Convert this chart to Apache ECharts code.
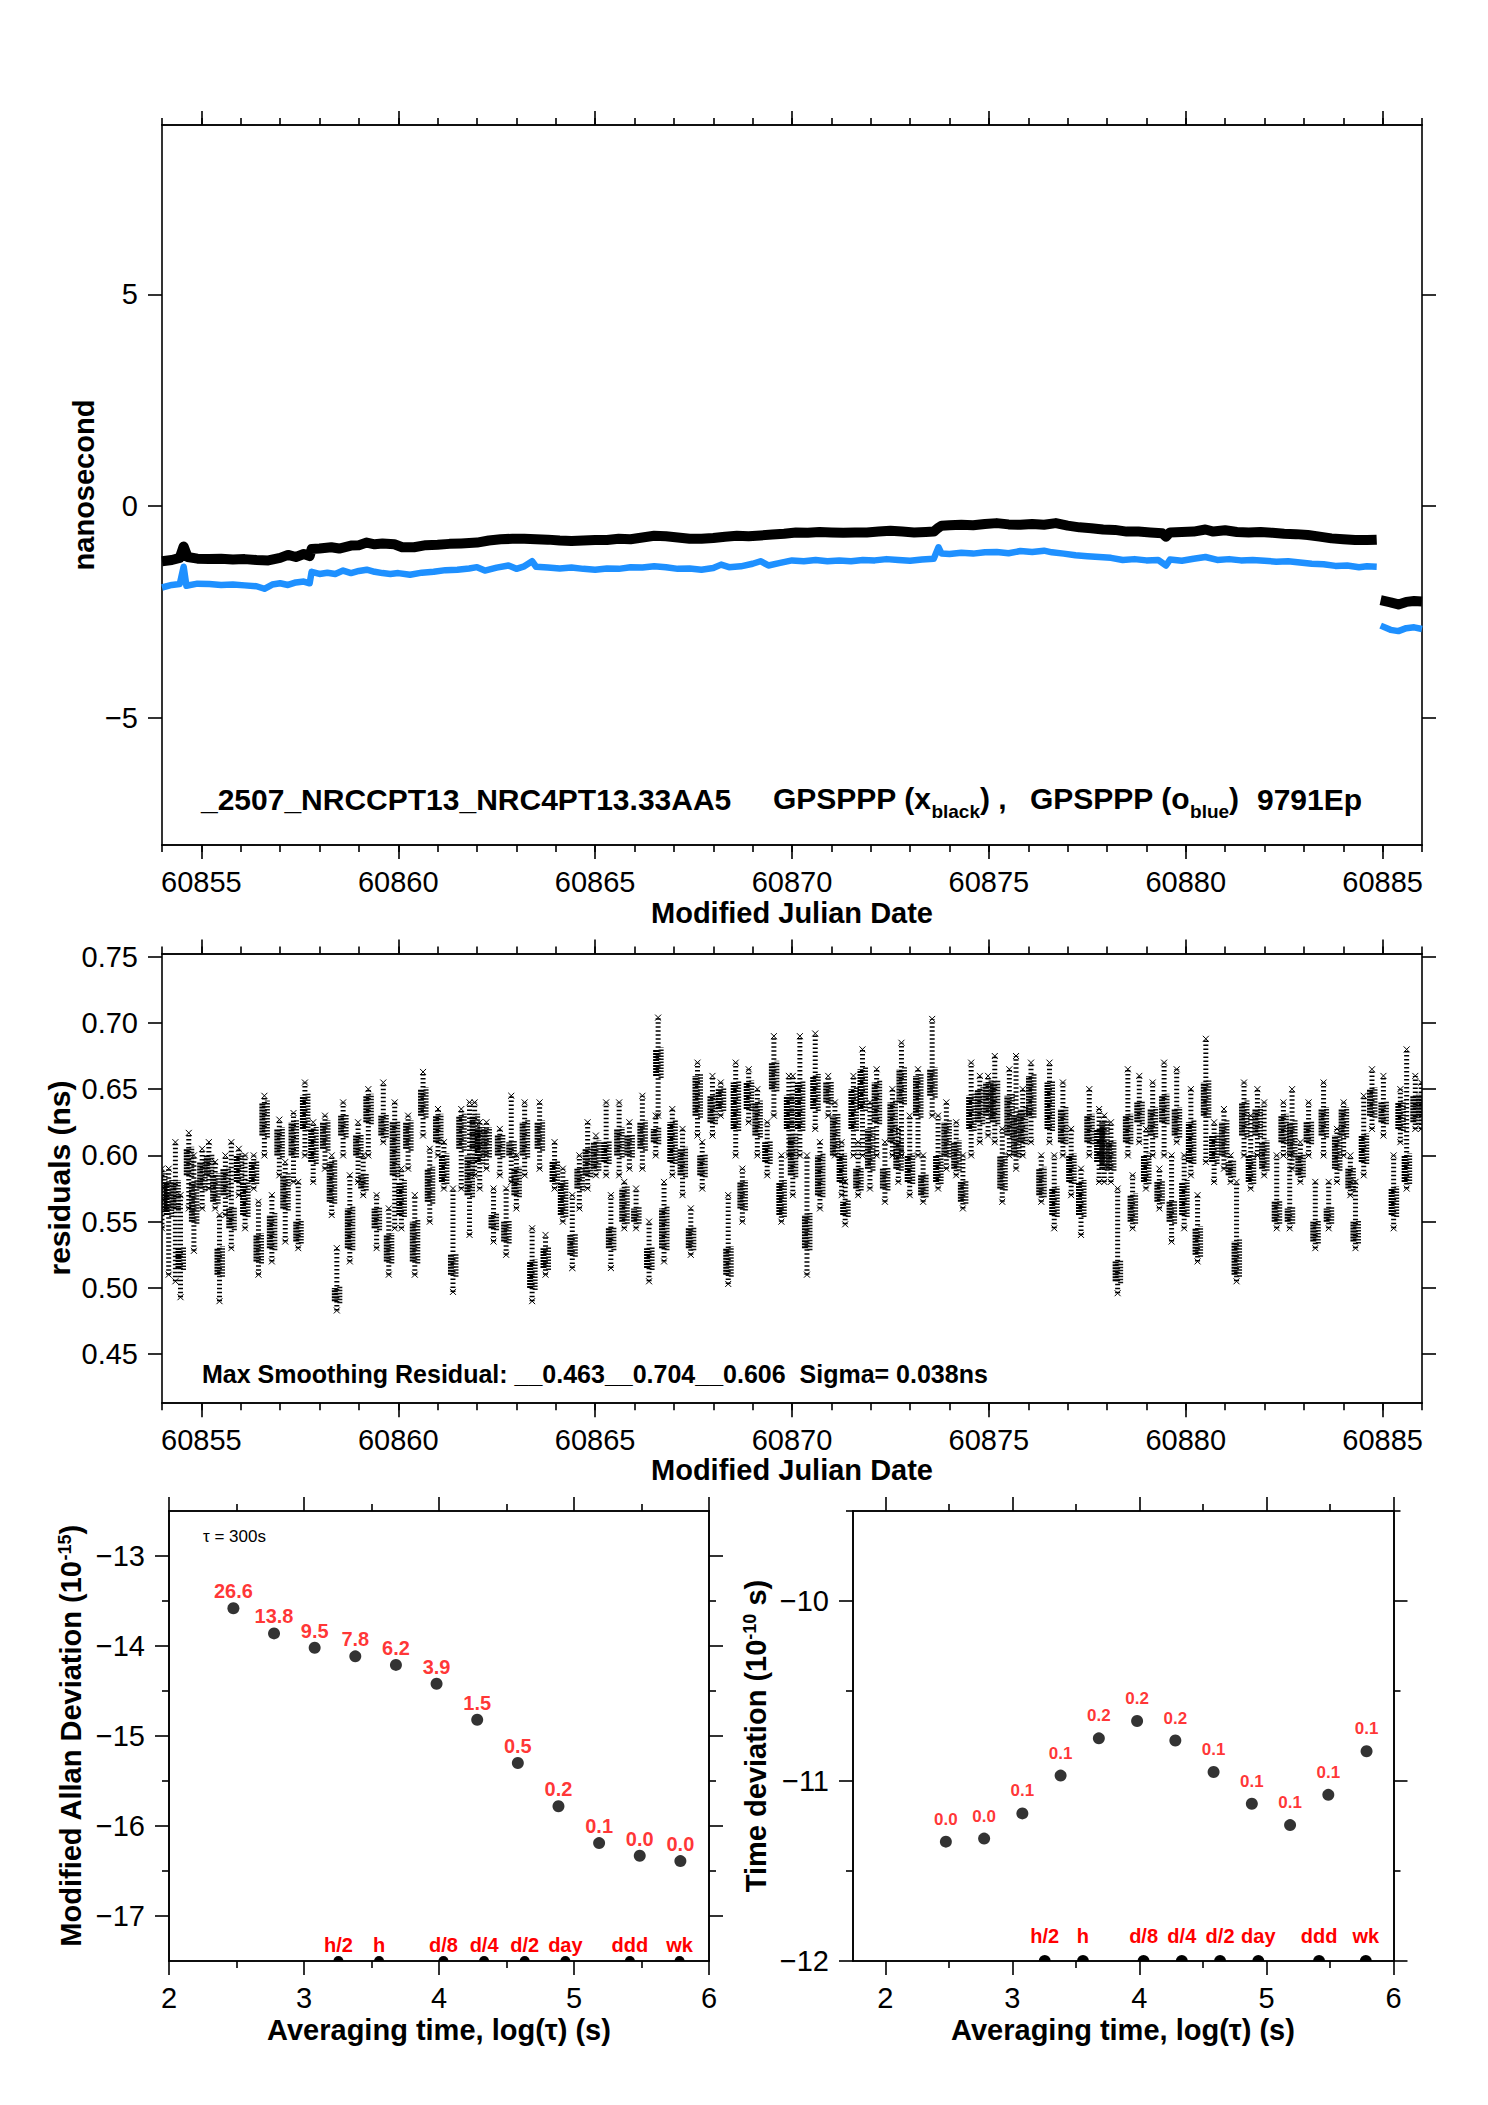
<!DOCTYPE html>
<html><head><meta charset="utf-8">
<script src="https://cdn.jsdelivr.net/npm/echarts@6/dist/echarts.min.js"></script>
<style>html,body{margin:0;padding:0;background:#fff}#c{width:1488px;height:2105px}</style>
</head><body><div id="c"></div>
<script>
// ---------- DATA ----------
const mjdMajor = [60855, 60860, 60865, 60870, 60875, 60880, 60885];
const mjdMinor = [60854,60855,60856,60857,60858,60859,60860,60861,60862,60863,60864,60865,60866,60867,60868,60869,60870,60871,60872,60873,60874,60875,60876,60877,60878,60879,60880,60881,60882,60883,60884,60885,60886];
const nsTicks = [-5, 0, 5];
const residTicks = [0.45, 0.50, 0.55, 0.60, 0.65, 0.70, 0.75];
const logTicks = [2, 3, 4, 5, 6];
const logMinor = [2.5, 3.5, 4.5, 5.5];
const madevTicks = [-17, -16, -15, -14, -13];
const madevMinor = [-16.5, -15.5, -14.5, -13.5];
const tdevTicks = [-12, -11, -10];
const tdevMinor = [-11.5, -10.5, -9.5];

// GPSPPP (black) time offsets, ns
const blackPts = [
[60854.00,-1.30],[60854.25,-1.27],[60854.45,-1.22],[60854.55,-0.95],[60854.65,-1.20],[60854.90,-1.24],
[60855.20,-1.25],[60855.50,-1.24],[60855.80,-1.26],[60856.10,-1.25],[60856.40,-1.27],[60856.70,-1.28],
[60857.00,-1.22],[60857.20,-1.15],[60857.40,-1.20],[60857.60,-1.13],[60857.75,-1.18],[60857.80,-1.01],
[60858.00,-1.00],[60858.30,-0.97],[60858.50,-1.00],[60858.80,-0.93],[60859.00,-0.92],[60859.20,-0.86],
[60859.40,-0.90],[60859.60,-0.88],[60859.90,-0.90],[60860.10,-0.97],[60860.40,-0.97],[60860.70,-0.92],
[60861.00,-0.91],[60861.30,-0.89],[60861.60,-0.88],[60862.00,-0.86],[60862.30,-0.81],[60862.60,-0.78],
[60862.90,-0.77],[60863.20,-0.77],[60863.50,-0.78],[60863.80,-0.79],[60864.10,-0.81],[60864.40,-0.82],
[60864.70,-0.81],[60865.00,-0.80],[60865.30,-0.80],[60865.60,-0.77],[60865.90,-0.78],[60866.20,-0.74],
[60866.50,-0.70],[60866.80,-0.71],[60867.10,-0.74],[60867.40,-0.77],[60867.70,-0.77],[60868.00,-0.75],
[60868.30,-0.72],[60868.60,-0.70],[60868.90,-0.71],[60869.20,-0.69],[60869.50,-0.67],[60869.80,-0.65],
[60870.10,-0.62],[60870.40,-0.63],[60870.70,-0.61],[60871.00,-0.62],[60871.30,-0.63],[60871.60,-0.62],
[60871.90,-0.62],[60872.20,-0.60],[60872.50,-0.58],[60872.80,-0.60],[60873.10,-0.62],[60873.40,-0.61],
[60873.60,-0.60],[60873.70,-0.52],[60873.80,-0.46],[60874.00,-0.45],[60874.30,-0.44],[60874.60,-0.45],
[60874.90,-0.42],[60875.20,-0.40],[60875.50,-0.43],[60875.80,-0.44],[60876.10,-0.42],[60876.40,-0.44],
[60876.70,-0.40],[60877.00,-0.46],[60877.30,-0.50],[60877.60,-0.52],[60877.90,-0.55],[60878.20,-0.56],
[60878.50,-0.60],[60878.80,-0.60],[60879.10,-0.62],[60879.40,-0.64],[60879.50,-0.72],[60879.60,-0.62],
[60879.90,-0.61],[60880.20,-0.60],[60880.50,-0.55],[60880.70,-0.60],[60881.00,-0.57],[60881.30,-0.61],
[60881.60,-0.62],[60881.90,-0.61],[60882.20,-0.63],[60882.50,-0.65],[60882.80,-0.66],[60883.10,-0.68],
[60883.40,-0.72],[60883.70,-0.76],[60884.00,-0.78],[60884.30,-0.80],[60884.60,-0.80],[60884.85,-0.79],
[60884.90,null],
[60884.95,-2.22],[60885.20,-2.27],[60885.40,-2.32],[60885.60,-2.26],[60885.80,-2.24],[60886.00,-2.25]
];
// GPSPPP (blue) time offsets, ns
const bluePts = [
[60854.00,-1.92],[60854.25,-1.86],[60854.45,-1.84],[60854.55,-1.43],[60854.62,-1.88],[60854.90,-1.83],
[60855.20,-1.84],[60855.50,-1.86],[60855.80,-1.85],[60856.10,-1.87],[60856.40,-1.89],[60856.60,-1.95],
[60856.80,-1.85],[60857.00,-1.82],[60857.20,-1.86],[60857.40,-1.80],[60857.60,-1.78],[60857.75,-1.82],
[60857.80,-1.55],[60858.00,-1.60],[60858.20,-1.57],[60858.40,-1.60],[60858.60,-1.52],[60858.80,-1.58],
[60859.00,-1.53],[60859.20,-1.50],[60859.40,-1.55],[60859.60,-1.58],[60859.80,-1.60],[60860.00,-1.58],
[60860.30,-1.62],[60860.60,-1.57],[60860.90,-1.55],[60861.20,-1.51],[60861.50,-1.50],[60861.80,-1.47],
[60862.00,-1.44],[60862.20,-1.52],[60862.50,-1.45],[60862.80,-1.40],[60863.00,-1.48],[60863.20,-1.42],
[60863.40,-1.30],[60863.50,-1.43],[60863.80,-1.45],[60864.10,-1.47],[60864.40,-1.45],[60864.70,-1.48],
[60865.00,-1.50],[60865.30,-1.47],[60865.60,-1.48],[60865.90,-1.44],[60866.20,-1.45],[60866.50,-1.42],
[60866.80,-1.44],[60867.10,-1.48],[60867.40,-1.47],[60867.70,-1.50],[60868.00,-1.46],[60868.20,-1.38],
[60868.40,-1.44],[60868.70,-1.42],[60869.00,-1.36],[60869.20,-1.30],[60869.40,-1.40],[60869.70,-1.34],
[60870.00,-1.28],[60870.30,-1.30],[60870.60,-1.27],[60870.90,-1.30],[60871.20,-1.28],[60871.50,-1.30],
[60871.80,-1.27],[60872.10,-1.28],[60872.40,-1.25],[60872.70,-1.27],[60873.00,-1.29],[60873.30,-1.26],
[60873.60,-1.24],[60873.72,-0.97],[60873.80,-1.12],[60874.00,-1.13],[60874.30,-1.10],[60874.60,-1.12],
[60874.90,-1.09],[60875.20,-1.08],[60875.50,-1.11],[60875.80,-1.06],[60876.10,-1.08],[60876.40,-1.05],
[60876.60,-1.09],[60876.90,-1.12],[60877.20,-1.16],[60877.50,-1.18],[60877.80,-1.20],[60878.10,-1.22],
[60878.40,-1.27],[60878.70,-1.25],[60879.00,-1.28],[60879.30,-1.27],[60879.50,-1.40],[60879.60,-1.26],
[60879.90,-1.29],[60880.20,-1.24],[60880.50,-1.20],[60880.80,-1.27],[60881.10,-1.25],[60881.40,-1.28],
[60881.70,-1.27],[60882.00,-1.29],[60882.30,-1.31],[60882.60,-1.30],[60882.90,-1.33],[60883.20,-1.36],
[60883.50,-1.37],[60883.80,-1.41],[60884.10,-1.40],[60884.40,-1.44],[60884.60,-1.42],[60884.85,-1.43],
[60884.90,null],
[60884.95,-2.82],[60885.20,-2.92],[60885.40,-2.95],[60885.60,-2.88],[60885.80,-2.86],[60886.00,-2.90]
];

// residual streaks: [mjd, low, coreLow, coreHigh, high]  (ns)
const residStreaks = [
[60854.00,0.545,0.56,0.585,0.59],[60854.17,0.51,0.555,0.58,0.59],[60854.34,0.505,0.56,0.58,0.61],
[60854.47,0.493,0.515,0.53,0.57],[60854.68,0.56,0.585,0.605,0.617],[60854.81,0.528,0.55,0.58,0.60],
[60855.02,0.56,0.575,0.595,0.605],[60855.19,0.575,0.585,0.60,0.61],[60855.35,0.56,0.565,0.585,0.595],
[60855.46,0.49,0.51,0.53,0.555],[60855.61,0.555,0.57,0.59,0.60],[60855.76,0.53,0.545,0.56,0.61],
[60855.95,0.57,0.58,0.60,0.605],[60856.11,0.545,0.555,0.58,0.60],[60856.33,0.575,0.58,0.595,0.60],
[60856.45,0.51,0.52,0.54,0.565],[60856.60,0.60,0.615,0.64,0.645],[60856.79,0.52,0.53,0.555,0.57],
[60856.98,0.585,0.60,0.62,0.627],[60857.13,0.535,0.56,0.585,0.595],[60857.34,0.58,0.60,0.625,0.632],
[60857.46,0.53,0.535,0.55,0.58],[60857.63,0.60,0.62,0.645,0.655],[60857.84,0.58,0.595,0.62,0.625],
[60858.14,0.59,0.605,0.625,0.63],[60858.31,0.555,0.565,0.595,0.60],[60858.44,0.483,0.49,0.50,0.53],
[60858.60,0.60,0.615,0.63,0.64],[60858.77,0.52,0.53,0.56,0.585],[60858.98,0.58,0.60,0.615,0.625],
[60859.11,0.57,0.575,0.585,0.60],[60859.24,0.60,0.625,0.645,0.65],[60859.45,0.53,0.545,0.56,0.57],
[60859.62,0.61,0.615,0.63,0.655],[60859.76,0.51,0.52,0.54,0.56],[60859.91,0.545,0.585,0.625,0.64],
[60860.08,0.545,0.555,0.58,0.59],[60860.25,0.59,0.605,0.625,0.63],[60860.42,0.51,0.52,0.55,0.57],
[60860.63,0.615,0.63,0.65,0.663],[60860.80,0.55,0.565,0.59,0.605],[60861.01,0.60,0.61,0.63,0.635],
[60861.16,0.575,0.58,0.60,0.61],[60861.39,0.497,0.51,0.525,0.575],[60861.60,0.575,0.605,0.63,0.635],
[60861.81,0.54,0.57,0.60,0.64],[60861.94,0.585,0.605,0.63,0.64],
[60862.07,0.575,0.595,0.62,0.625],[60862.24,0.59,0.60,0.62,0.625],[60862.42,0.535,0.545,0.555,0.575],
[60862.58,0.585,0.60,0.615,0.62],[60862.74,0.525,0.535,0.55,0.575],[60862.87,0.58,0.60,0.61,0.645],
[60863.00,0.56,0.57,0.59,0.60],[60863.21,0.585,0.60,0.625,0.64],[60863.40,0.49,0.50,0.52,0.545],
[60863.59,0.59,0.605,0.625,0.64],[60863.74,0.51,0.515,0.53,0.54],[60863.97,0.575,0.58,0.595,0.61],
[60864.18,0.55,0.555,0.58,0.59],[60864.42,0.515,0.525,0.54,0.57],[60864.60,0.56,0.575,0.59,0.60],
[60864.81,0.575,0.585,0.605,0.625],[60865.02,0.585,0.59,0.61,0.615],[60865.28,0.585,0.595,0.61,0.64],
[60865.40,0.515,0.53,0.545,0.57],[60865.61,0.585,0.60,0.62,0.64],[60865.74,0.545,0.55,0.575,0.58],
[60865.87,0.59,0.60,0.615,0.625],[60866.04,0.545,0.55,0.56,0.575],[60866.20,0.59,0.605,0.625,0.645],
[60866.37,0.505,0.515,0.53,0.55],[60866.54,0.60,0.61,0.62,0.63],[60866.60,0.63,0.66,0.68,0.704],
[60866.75,0.52,0.53,0.56,0.58],[60866.96,0.585,0.595,0.625,0.635],[60867.22,0.57,0.585,0.605,0.62],
[60867.43,0.525,0.53,0.545,0.56],[60867.60,0.615,0.63,0.66,0.67],[60867.72,0.575,0.585,0.60,0.61],
[60867.98,0.615,0.625,0.645,0.66],[60868.19,0.63,0.635,0.65,0.655],[60868.38,0.503,0.51,0.53,0.57],
[60868.57,0.60,0.62,0.655,0.67],[60868.74,0.55,0.56,0.58,0.59],[60868.90,0.625,0.635,0.655,0.665],
[60869.12,0.60,0.615,0.64,0.65],[60869.37,0.585,0.595,0.61,0.625],[60869.54,0.63,0.65,0.67,0.69],
[60869.73,0.55,0.555,0.58,0.60],[60869.92,0.60,0.62,0.645,0.66],
[60870.02,0.57,0.585,0.615,0.66],[60870.20,0.60,0.62,0.655,0.69],[60870.38,0.51,0.53,0.555,0.60],
[60870.59,0.62,0.635,0.66,0.692],[60870.71,0.56,0.57,0.60,0.61],[60870.92,0.63,0.64,0.655,0.66],
[60871.09,0.60,0.60,0.63,0.64],[60871.26,0.57,0.58,0.60,0.61],[60871.35,0.548,0.555,0.565,0.58],
[60871.56,0.60,0.62,0.65,0.66],[60871.68,0.57,0.575,0.59,0.61],[60871.79,0.60,0.635,0.665,0.68],
[60871.98,0.575,0.59,0.62,0.64],[60872.15,0.60,0.625,0.655,0.665],[60872.36,0.565,0.575,0.59,0.61],
[60872.55,0.60,0.61,0.64,0.65],[60872.70,0.58,0.59,0.61,0.62],[60872.78,0.60,0.64,0.665,0.685],
[60872.99,0.57,0.58,0.60,0.63],[60873.20,0.60,0.63,0.66,0.665],[60873.33,0.565,0.57,0.585,0.60],
[60873.56,0.63,0.645,0.665,0.703],[60873.71,0.575,0.58,0.60,0.63],[60873.92,0.59,0.60,0.625,0.64],
[60874.17,0.585,0.59,0.61,0.625],[60874.34,0.56,0.565,0.58,0.60],[60874.55,0.60,0.62,0.645,0.67],
[60874.77,0.61,0.625,0.65,0.66],[60874.98,0.615,0.63,0.655,0.66],[60875.15,0.61,0.625,0.655,0.675],
[60875.34,0.565,0.575,0.60,0.62],[60875.52,0.60,0.615,0.645,0.665],[60875.69,0.59,0.60,0.63,0.675],
[60875.86,0.60,0.61,0.635,0.65],[60876.07,0.61,0.63,0.66,0.67],[60876.33,0.565,0.57,0.59,0.60],
[60876.54,0.61,0.62,0.655,0.67],[60876.66,0.545,0.555,0.575,0.60],[60876.88,0.60,0.61,0.635,0.655],
[60877.09,0.57,0.58,0.60,0.62],[60877.34,0.54,0.555,0.58,0.59],[60877.55,0.60,0.61,0.63,0.65],
[60877.80,0.58,0.595,0.62,0.635],
[60877.93,0.58,0.59,0.625,0.63],[60878.10,0.58,0.59,0.61,0.625],[60878.27,0.496,0.505,0.52,0.575],
[60878.53,0.60,0.61,0.63,0.665],[60878.65,0.545,0.55,0.57,0.585],[60878.82,0.61,0.625,0.64,0.66],
[60878.99,0.575,0.58,0.60,0.62],[60879.16,0.60,0.615,0.635,0.655],[60879.33,0.56,0.565,0.58,0.59],
[60879.45,0.60,0.625,0.645,0.67],[60879.64,0.535,0.55,0.565,0.60],[60879.77,0.61,0.615,0.635,0.665],
[60879.96,0.545,0.555,0.58,0.60],[60880.13,0.585,0.595,0.625,0.65],[60880.30,0.52,0.525,0.545,0.57],
[60880.51,0.595,0.63,0.655,0.688],[60880.72,0.58,0.595,0.615,0.625],[60880.97,0.59,0.60,0.625,0.635],
[60881.14,0.58,0.585,0.595,0.60],[60881.29,0.505,0.51,0.535,0.58],[60881.48,0.60,0.615,0.64,0.655],
[60881.65,0.575,0.58,0.60,0.63],[60881.82,0.60,0.615,0.635,0.65],[60881.99,0.585,0.59,0.61,0.64],
[60882.31,0.545,0.55,0.565,0.60],[60882.48,0.60,0.61,0.63,0.64],[60882.64,0.545,0.55,0.56,0.60],
[60882.70,0.59,0.60,0.625,0.65],[60882.91,0.58,0.585,0.60,0.61],[60883.12,0.60,0.61,0.625,0.64],
[60883.29,0.53,0.535,0.55,0.58],[60883.50,0.60,0.615,0.635,0.655],[60883.63,0.545,0.55,0.56,0.58],
[60883.84,0.58,0.59,0.615,0.62],[60884.01,0.60,0.615,0.635,0.64],[60884.18,0.57,0.575,0.59,0.60],
[60884.31,0.53,0.535,0.55,0.58],[60884.52,0.585,0.595,0.615,0.645],[60884.73,0.62,0.63,0.65,0.665],
[60885.02,0.615,0.625,0.64,0.66],[60885.28,0.545,0.555,0.575,0.60],[60885.45,0.61,0.62,0.64,0.65],
[60885.61,0.575,0.58,0.60,0.68],[60885.83,0.62,0.625,0.645,0.66],[60885.98,0.62,0.63,0.645,0.655]
];

// stability: log10(tau) vs log10(deviation)
const logTau = [2.477, 2.778, 3.079, 3.380, 3.681, 3.982, 4.283, 4.584, 4.885, 5.186, 5.487, 5.788];
const madevLog = [-13.58, -13.86, -14.02, -14.115, -14.21, -14.42, -14.82, -15.30, -15.78, -16.19, -16.33, -16.39];
const madevLabels = ['26.6', '13.8', '9.5', '7.8', '6.2', '3.9', '1.5', '0.5', '0.2', '0.1', '0.0', '0.0'];
const tdevLog = [-11.337, -11.32, -11.18, -10.97, -10.763, -10.667, -10.775, -10.95, -11.126, -11.245, -11.077, -10.835];
const tdevLabels = ['0.0', '0.0', '0.1', '0.1', '0.2', '0.2', '0.2', '0.1', '0.1', '0.1', '0.1', '0.1'];
const markerX = [3.255, 3.556, 4.033, 4.334, 4.635, 4.936, 5.414, 5.782];
const markerNames = ['h/2', 'h', 'd/8', 'd/4', 'd/2', 'day', 'ddd', 'wk'];

// ---------- CHART ----------
const FONT = "'Liberation Sans', Arial, Helvetica, sans-serif";
const chart = echarts.init(document.getElementById('c'), null, {renderer: 'svg', width: 1488, height: 2105});
const minus = v => (v < 0 ? '\u2212' : '') + Math.abs(v);

function axisPair(gi, pos, min, max, major, minor, labelFmt, margin) {
  const base = {
    type: 'value', gridIndex: gi, position: pos, min: min, max: max, scale: true,
    axisLine: {show: true, onZero: false, lineStyle: {color: '#000', width: 1.6}},
    splitLine: {show: false}, minorTick: {show: false}
  };
  const out = [Object.assign({}, base, {
    axisTick: {show: true, customValues: major, length: 14, lineStyle: {color: '#000', width: 1.6}},
    axisLabel: labelFmt ? {show: true, customValues: major, formatter: labelFmt, margin: margin,
      fontSize: 29, color: '#000', fontFamily: FONT} : {show: false}
  })];
  if (minor && minor.length) {
    out.push(Object.assign({}, base, {
      axisTick: {show: true, customValues: minor, length: 7, lineStyle: {color: '#000', width: 1.6}},
      axisLabel: {show: false}
    }));
  }
  return out;
}

const xAxes = [], yAxes = [];
const idx = {};
function addGrid(gi, xmin, xmax, xMaj, xMin, xFmt, ymin, ymax, yMaj, yMin, yFmt) {
  idx[gi] = {x: xAxes.length, y: yAxes.length};
  xAxes.push(...axisPair(gi, 'bottom', xmin, xmax, xMaj, xMin, xFmt, 22));
  xAxes.push(...axisPair(gi, 'top', xmin, xmax, xMaj, xMin, null));
  yAxes.push(...axisPair(gi, 'left', ymin, ymax, yMaj, yMin, yFmt, 24));
  yAxes.push(...axisPair(gi, 'right', ymin, ymax, yMaj, yMin, null));
}
addGrid(0, 60854, 60886, mjdMajor, mjdMinor, v => String(v), -8, 9, nsTicks, null, minus);
addGrid(1, 60854, 60886, mjdMajor, mjdMinor, v => String(v), 0.413, 0.7523, residTicks, null, v => v.toFixed(2));
addGrid(2, 2, 6, logTicks, logMinor, v => String(v), -17.5, -12.5, madevTicks, madevMinor, minus);
addGrid(3, 1.746, 6, logTicks, logMinor, v => String(v), -12, -9.5, tdevTicks, tdevMinor, minus);

function xMarker(p, s) {
  return [
    {type: 'line', shape: {x1: p[0]-s, y1: p[1]-s, x2: p[0]+s, y2: p[1]+s}, style: {stroke: '#000', lineWidth: 1}},
    {type: 'line', shape: {x1: p[0]-s, y1: p[1]+s, x2: p[0]+s, y2: p[1]-s}, style: {stroke: '#000', lineWidth: 1}}
  ];
}
function streakRender(params, api) {
  const x = api.value(0);
  const pLo = api.coord([x, api.value(1)]);
  const pCl = api.coord([x, api.value(2)]);
  const pCh = api.coord([x, api.value(3)]);
  const pHi = api.coord([x, api.value(4)]);
  return {type: 'group', children: [
    {type: 'line', shape: {x1: pLo[0], y1: pLo[1], x2: pHi[0], y2: pHi[1]}, style: {stroke: '#000', lineWidth: 5, lineDash: [1.5, 2.5]}},
    {type: 'line', shape: {x1: pCl[0] - 2, y1: pCl[1], x2: pCh[0] - 2, y2: pCh[1]}, style: {stroke: '#000', lineWidth: 6, lineDash: [2, 1]}},
    {type: 'line', shape: {x1: pCl[0] + 3, y1: pCl[1] + 2, x2: pCh[0] + 3, y2: pCh[1] - 2}, style: {stroke: '#111', lineWidth: 5, lineDash: [1.5, 1.5]}},
    ...xMarker(pLo, 3), ...xMarker(pHi, 3)
  ]};
}
function markerRender(r, dy) {
  return function (params, api) {
    const p = api.coord([api.value(0), api.value(1)]);
    return {type: 'group', children: [
      {type: 'sector', shape: {cx: p[0], cy: p[1], r0: 0, r: r, startAngle: Math.PI, endAngle: 2 * Math.PI, clockwise: true}, style: {fill: '#000'}},
      {type: 'text', x: p[0], y: p[1] - dy, style: {text: markerNames[params.dataIndex], font: 'bold 20px ' + FONT,
        fill: '#ff0000', align: 'center', verticalAlign: 'middle', textAlign: 'center', textVerticalAlign: 'middle'}}
    ]};
  };
}

const series = [
  {type: 'line', xAxisIndex: idx[0].x, yAxisIndex: idx[0].y, data: bluePts, showSymbol: false, connectNulls: false,
   lineStyle: {color: '#1e90ff', width: 6.5, join: 'round'}, animation: false, z: 2},
  {type: 'line', xAxisIndex: idx[0].x, yAxisIndex: idx[0].y, data: blackPts, showSymbol: false, connectNulls: false,
   lineStyle: {color: '#000', width: 10, join: 'round'}, animation: false, z: 3},
  {type: 'custom', xAxisIndex: idx[1].x, yAxisIndex: idx[1].y, data: residStreaks, renderItem: streakRender,
   encode: {x: 0, y: [1, 2, 3, 4]}, clip: true, animation: false},
  {type: 'scatter', xAxisIndex: idx[2].x, yAxisIndex: idx[2].y, data: logTau.map((x, i) => [x, madevLog[i]]),
   symbol: 'circle', symbolSize: 12, itemStyle: {color: '#000'}, animation: false,
   label: {show: true, position: 'top', distance: 1, formatter: p => madevLabels[p.dataIndex],
     color: '#ff0000', fontWeight: 'bold', fontSize: 20, fontFamily: FONT}},
  {type: 'custom', xAxisIndex: idx[2].x, yAxisIndex: idx[2].y, data: markerX.map(x => [x, -17.5]),
   renderItem: markerRender(5, 16), clip: false, animation: false, z: 5},
  {type: 'scatter', xAxisIndex: idx[3].x, yAxisIndex: idx[3].y, data: logTau.map((x, i) => [x, tdevLog[i]]),
   symbol: 'circle', symbolSize: 12, itemStyle: {color: '#000'}, animation: false,
   label: {show: true, position: 'top', distance: 8, formatter: p => tdevLabels[p.dataIndex],
     color: '#ff0000', fontWeight: 'bold', fontSize: 17, fontFamily: FONT}},
  {type: 'custom', xAxisIndex: idx[3].x, yAxisIndex: idx[3].y, data: markerX.map(x => [x, -12]),
   renderItem: markerRender(6, 25), clip: false, animation: false, z: 5}
];

function txt(text, x, y, size, opts) {
  opts = opts || {};
  return {type: 'text', x: x, y: y, rotation: opts.rot || 0, z: 10,
    style: Object.assign({text: text, font: (opts.weight || 'bold') + ' ' + size + 'px ' + FONT, fill: opts.color || '#000',
      align: opts.align || 'center', verticalAlign: 'middle', textAlign: opts.align || 'center', textVerticalAlign: 'middle'},
      opts.rich ? {rich: opts.rich} : {})};
}
const subRich = {
  n: {fontSize: 30, fontWeight: 'bold', fontFamily: FONT, lineHeight: 36, verticalAlign: 'top'},
  sub: {fontSize: 19, fontWeight: 'bold', fontFamily: FONT, lineHeight: 22, padding: [19, 0, 0, 0], verticalAlign: 'top'}
};
const supRich = {
  n: {fontSize: 29, fontWeight: 'bold', fontFamily: FONT, lineHeight: 36, verticalAlign: 'top'},
  sup: {fontSize: 18, fontWeight: 'bold', fontFamily: FONT, lineHeight: 20, padding: [0, 0, 0, 0], verticalAlign: 'top'}
};

const graphics = [
  txt('nanosecond', 84, 485, 29, {rot: Math.PI / 2}),
  txt('Modified Julian Date', 792, 913, 29),
  txt('_2507_NRCCPT13_NRC4PT13.33AA5', 201, 799, 30, {align: 'left'}),
  txt('{n|GPSPPP (x}{sub|black}{n|) ,}', 773, 801, 30, {align: 'left', rich: subRich}),
  txt('{n|GPSPPP (o}{sub|blue}{n|)}', 1030, 801, 30, {align: 'left', rich: subRich}),
  txt('9791Ep', 1257, 799, 30, {align: 'left'}),
  txt('residuals (ns)', 59, 1178, 30, {rot: Math.PI / 2}),
  txt('Max Smoothing Residual: __0.463__0.704__0.606\u00a0 Sigma= 0.038ns', 202, 1374, 25, {align: 'left'}),
  txt('Modified Julian Date', 792, 1470, 29),
  txt('{n|Modified Allan Deviation (10}{sup|-15}{n|)}', 74, 1736, 29, {rot: Math.PI / 2, rich: supRich}),
  txt('Averaging time, log(\u03c4) (s)', 439, 2030, 29),
  txt('\u03c4 = 300s', 203, 1536, 17, {align: 'left', weight: 'normal'}),
  txt('{n|Time deviation (10}{sup|-10}{n| s)}', 759, 1736, 29, {rot: Math.PI / 2, rich: supRich}),
  txt('Averaging time, log(\u03c4) (s)', 1123, 2030, 29)
];

chart.setOption({
  animation: false,
  backgroundColor: '#ffffff',
  grid: [
    {left: 162, top: 125, width: 1260, height: 720, containLabel: false, outerBoundsMode: 'none'},
    {left: 162, top: 953.6, width: 1260, height: 449.6, containLabel: false, outerBoundsMode: 'none'},
    {left: 169, top: 1511, width: 540, height: 450, containLabel: false, outerBoundsMode: 'none'},
    {left: 853, top: 1511, width: 540.5, height: 450, containLabel: false, outerBoundsMode: 'none'}
  ],
  xAxis: xAxes,
  yAxis: yAxes,
  series: series,
  graphic: graphics
});
</script>
</body></html>
